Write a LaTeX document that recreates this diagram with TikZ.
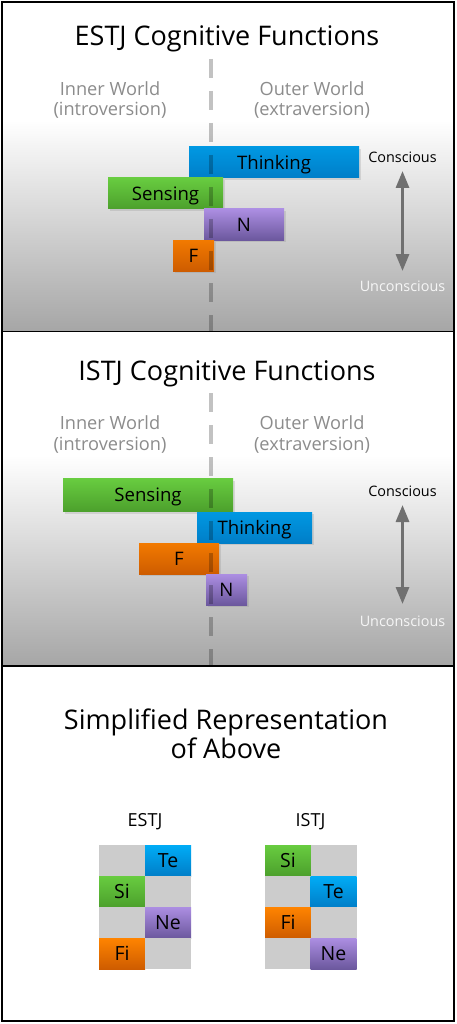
\documentclass[tikz,border=0pt]{standalone}
\usepackage{fontspec}
\setmainfont{Open Sans}
\usetikzlibrary{arrows.meta,shadows}
\definecolor{tTop}{RGB}{0,152,226}
\definecolor{tBot}{RGB}{0,126,200}
\definecolor{sTop}{RGB}{104,204,64}
\definecolor{sBot}{RGB}{76,160,44}
\definecolor{nTop}{RGB}{172,142,226}
\definecolor{nBot}{RGB}{108,88,158}
\definecolor{fTop}{RGB}{242,122,0}
\definecolor{fBot}{RGB}{206,92,0}
\definecolor{cTeTop}{RGB}{0,172,246}
\definecolor{cFiTop}{RGB}{255,132,0}
\definecolor{cellgray}{RGB}{204,204,204}
\definecolor{bggray}{RGB}{166,166,166}
\definecolor{worldgray}{RGB}{140,140,140}
\definecolor{arrowgray}{RGB}{112,112,112}
\definecolor{uncgray}{RGB}{246,246,246}
\tikzset{
  bar/.style={rectangle, inner sep=0pt, text height=13.3pt, text depth=0pt,
    font=\fontsize{18.6}{18.6}\selectfont, text=black,
    drop shadow={shadow xshift=2pt, shadow yshift=-2pt, opacity=0.22}},
  think/.style={bar, top color=tTop, bottom color=tBot},
  sense/.style={bar, top color=sTop, bottom color=sBot},
  intu/.style={bar, top color=nTop, bottom color=nBot},
  feel/.style={bar, top color=fTop, bottom color=fBot},
  ptitle/.style={anchor=base, font=\fontsize{27}{29}\selectfont, text=black, align=center},
  world/.style={anchor=base, font=\fontsize{18.2}{21}\selectfont, text=worldgray, align=center},
  axislbl/.style={anchor=base, font=\fontsize{14.4}{15}\selectfont},
  axisarrow/.style={draw=arrowgray, line width=3pt,
    {Triangle[width=13pt,length=17pt]}-{Triangle[width=13pt,length=17pt]}},
  midline/.style={draw=black, draw opacity=0.24, line width=3.5pt, dash pattern=on 19pt off 13pt},
  cell/.style={rectangle, inner sep=0pt, minimum width=46pt, minimum height=31pt,
    text height=14pt, text depth=0pt, font=\fontsize{19.5}{20}\selectfont},
  gcell/.style={cell, fill=cellgray},
  typelbl/.style={anchor=base, font=\fontsize{18}{19}\selectfont},
  frame/.style={draw=black, line width=1.6pt}
}
\begin{document}
\begin{tikzpicture}[x=1pt,y=-1pt]
\useasboundingbox (0,0) rectangle (456,1024);
% backgrounds
\fill[white] (0,0) rectangle (456,1024);
\shade[top color=white, bottom color=bggray] (2,120) rectangle (454,331);
\shade[top color=white, bottom color=bggray] (2,455) rectangle (454,666);
% ================= Panel 1 =================
\node[ptitle] (t1) at (227,46) {ESTJ Cognitive Functions};
\node[world] (in1) at (110,95.5) {Inner World};
\node[world] (in1b) at (110,116) {(introversion)};
\node[world] (out1) at (312,95.5) {Outer World};
\node[world] (out1b) at (312,116) {(extraversion)};
\node[think, minimum width=170pt, minimum height=31pt] (th1) at (274,162.5) {Thinking};
\node[sense, minimum width=115pt, minimum height=31pt] (se1) at (165.5,193.5) {Sensing};
\node[intu, minimum width=80pt, minimum height=31pt] (nn1) at (244,224.5) {N};
\node[feel, minimum width=41pt, minimum height=31pt] (ff1) at (193.5,255.5) {F};
\coordinate (d1a) at (211,59);
\coordinate (d1b) at (211,331);
\draw[midline] (d1a) -- (d1b);
\node[axislbl, text=black] (c1) at (402.5,162.5) {Conscious};
\node[axislbl, text=uncgray] (u1) at (402.5,291.5) {Unconscious};
\coordinate (a1t) at (402.5,171);
\coordinate (a1b) at (402.5,271);
\draw[axisarrow] (a1t) -- (a1b);
% ================= Panel 2 =================
\node[ptitle] (t2) at (227,380) {ISTJ Cognitive Functions};
\node[world] (in2) at (110,429.5) {Inner World};
\node[world] (in2b) at (110,450) {(introversion)};
\node[world] (out2) at (312,429.5) {Outer World};
\node[world] (out2b) at (312,450) {(extraversion)};
\node[sense, minimum width=170pt, minimum height=33pt] (se2) at (148,495) {Sensing};
\node[think, minimum width=115pt, minimum height=31pt] (th2) at (254.5,527.5) {Thinking};
\node[feel, minimum width=80pt, minimum height=31pt] (ff2) at (179,558.5) {F};
\node[intu, minimum width=41pt, minimum height=31pt] (nn2) at (226.5,589.5) {N};
\coordinate (d2a) at (211,393);
\coordinate (d2b) at (211,665);
\draw[midline] (d2a) -- (d2b);
\node[axislbl, text=black] (c2) at (402.5,496) {Conscious};
\node[axislbl, text=uncgray] (u2) at (402.5,626) {Unconscious};
\coordinate (a2t) at (402.5,505);
\coordinate (a2b) at (402.5,604);
\draw[axisarrow] (a2t) -- (a2b);
% ================= Panel 3 =================
\node[ptitle] (t3) at (226,729) {Simplified Representation};
\node[ptitle] (t3b) at (226,758) {of Above};
\node[typelbl] (lE) at (145,826) {ESTJ};
\node[typelbl] (lI) at (310.5,826) {ISTJ};
% ESTJ grid
\node[gcell] (e11) at (122,860.5) {};
\node[cell, top color=cTeTop, bottom color=tBot] (e12) at (168,860.5) {Te};
\node[cell, top color=sTop, bottom color=sBot] (e21) at (122,891.5) {Si};
\node[gcell] (e22) at (168,891.5) {};
\node[gcell] (e31) at (122,922.5) {};
\node[cell, top color=nTop, bottom color=nBot] (e32) at (168,922.5) {Ne};
\node[cell, top color=cFiTop, bottom color=fBot] (e41) at (122,953.5) {Fi};
\node[gcell] (e42) at (168,953.5) {};
% ISTJ grid
\node[cell, top color=sTop, bottom color=sBot] (i11) at (288,860.5) {Si};
\node[gcell] (i12) at (333.5,860.5) {};
\node[gcell] (i21) at (288,891.5) {};
\node[cell, top color=cTeTop, bottom color=tBot] (i22) at (333.5,891.5) {Te};
\node[cell, top color=cFiTop, bottom color=fBot] (i31) at (288,922.5) {Fi};
\node[gcell] (i32) at (333.5,922.5) {};
\node[gcell] (i41) at (288,953.5) {};
\node[cell, top color=nTop, bottom color=nBot] (i42) at (333.5,953.5) {Ne};
% frames
\draw[frame] (2,2) rectangle (454,1021);
\draw[frame] (2,331.5) -- (454,331.5);
\draw[frame] (2,666) -- (454,666);
\end{tikzpicture}
\end{document}
